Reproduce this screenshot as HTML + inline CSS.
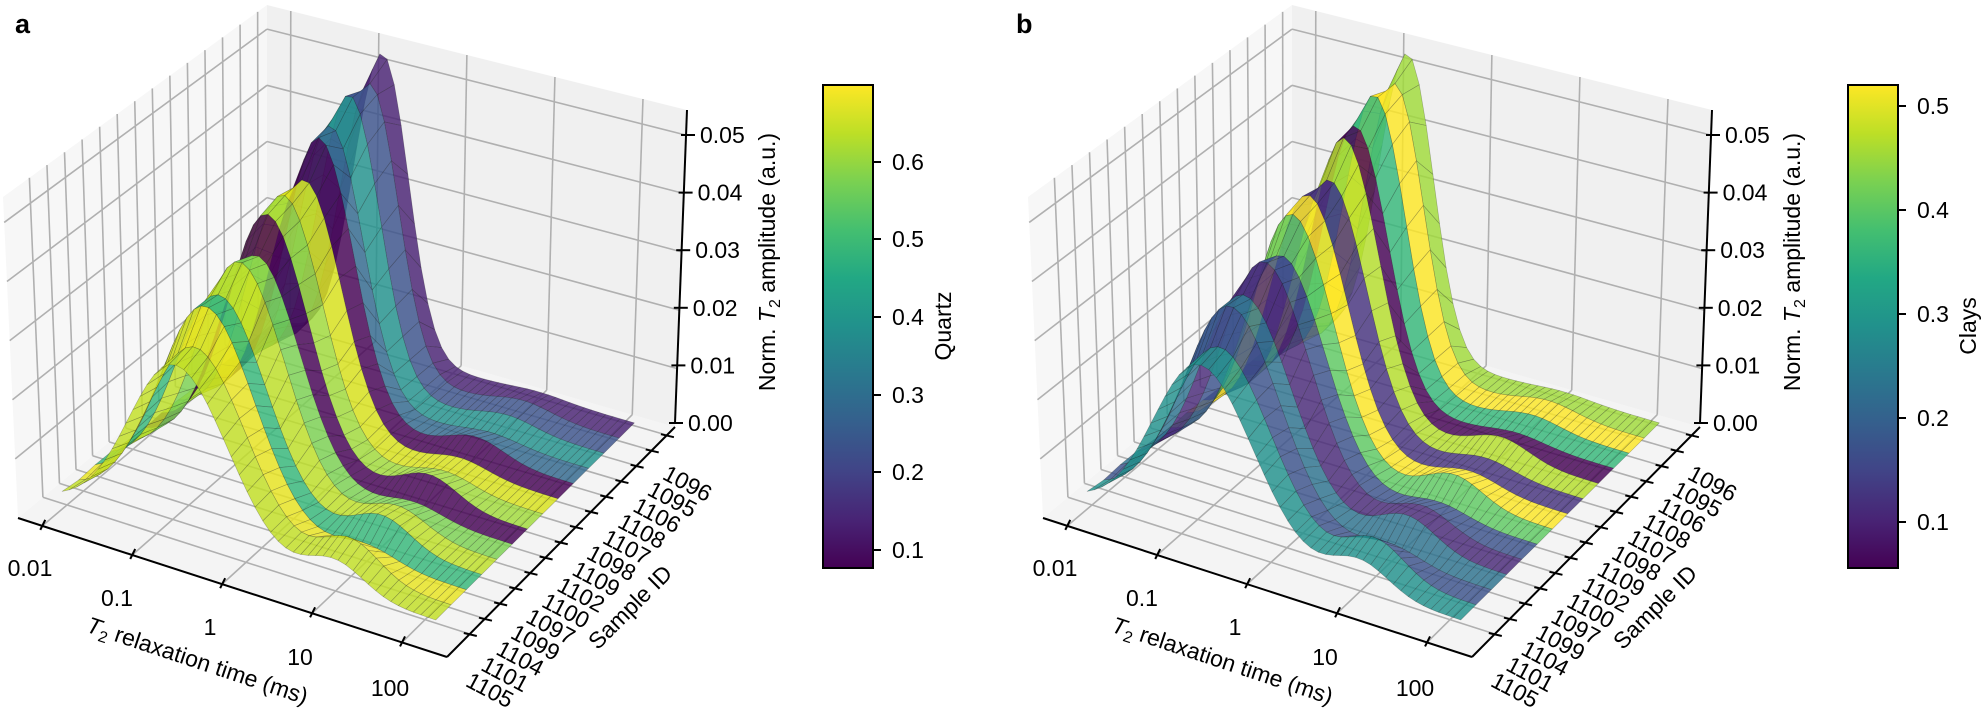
<!DOCTYPE html>
<html><head><meta charset="utf-8"><style>
html,body{margin:0;padding:0;background:#fff;}
svg{display:block;font-family:"Liberation Sans",Arial,sans-serif;}
</style></head><body>
<svg id="s" width="1985" height="709" viewBox="0 0 1985 709" xmlns="http://www.w3.org/2000/svg">
<defs>
<linearGradient id="vir" x1="0" y1="1" x2="0" y2="0">
<stop offset="0" stop-color="#440154"/><stop offset="0.1" stop-color="#482475"/><stop offset="0.2" stop-color="#414487"/><stop offset="0.3" stop-color="#355f8d"/><stop offset="0.4" stop-color="#2a788e"/><stop offset="0.5" stop-color="#21918c"/><stop offset="0.6" stop-color="#22a884"/><stop offset="0.7" stop-color="#44bf70"/><stop offset="0.8" stop-color="#7ad151"/><stop offset="0.9" stop-color="#bddf26"/><stop offset="1" stop-color="#fde725"/>
</linearGradient>
</defs>
<g id="pa"></g><g id="pb"></g>
</svg>
<script>
(function(){
var NS="http://www.w3.org/2000/svg";
var A=[18,518],B=[447,657],C=[675,427],D=[267,310];
var At=[3,197],Bt=[440,318],Ct=[687,110],Dt=[267,5];
var WMAX=0.0543, UMIN=-2.27, UR=4.77;
function bil(a,b,c,d,fu,fv){return [(1-fu)*(1-fv)*a[0]+fu*(1-fv)*b[0]+fu*fv*c[0]+(1-fu)*fv*d[0],(1-fu)*(1-fv)*a[1]+fu*(1-fv)*b[1]+fu*fv*c[1]+(1-fu)*fv*d[1]];}
function P(fu,fv,w,ox){var b=bil(A,B,C,D,fu,fv),t=bil(At,Bt,Ct,Dt,fu,fv),h=w/WMAX;return [b[0]+(t[0]-b[0])*h+ox,b[1]+(t[1]-b[1])*h];}
function fuOf(u){return (u-UMIN)/UR;}
function fvOf(i){return 0.1+0.0665*i;}
function el(g,tag,attrs,txt){var e=document.createElementNS(NS,tag);for(var k in attrs)e.setAttribute(k,attrs[k]);if(txt!=null)e.textContent=txt;g.appendChild(e);return e;}
function pts(a){return a.map(function(p){return p[0].toFixed(1)+","+p[1].toFixed(1);}).join(" ");}
var labels=["1105","1101","1104","1099","1097","1100","1102","1109","1098","1107","1108","1106","1095","1096"];
var hj=[1,0.97,1.05,0.98,1.03,0.95,1.02,1.0,0.97,1.04,0.99,1.02,0.98,1];
function amp(i,u){
  var t=i/13, H=(0.029+0.023*t)*hj[i], mu=-0.72-0.13*t+0.04*Math.sin(i*1.7), s=0.55-0.24*t;
  var bump=(0.005*(1-t)+0.0015)*(0.7+0.3*Math.sin(i*2.3));
  return H*Math.exp(-(u-mu)*(u-mu)/(2*s*s))+bump*Math.exp(-(u-1.0)*(u-1.0)/(2*0.1))+0.0005;
}
function panel(gid,ox,colors,cbLabel,cbTicks,letter){
  var g=document.getElementById(gid);
  el(g,"polygon",{points:pts([P(0,0,0,ox),P(1,0,0,ox),P(1,1,0,ox),P(0,1,0,ox)]),fill:"#f4f4f4"});
  el(g,"polygon",{points:pts([P(0,0,0,ox),P(0,1,0,ox),P(0,1,WMAX,ox),P(0,0,WMAX,ox)]),fill:"#f7f7f7"});
  el(g,"polygon",{points:pts([P(0,1,0,ox),P(1,1,0,ox),P(1,1,WMAX,ox),P(0,1,WMAX,ox)]),fill:"#f0f0f0"});
  var gs={stroke:"#b0b0b0","stroke-width":1.6,fill:"none"};
  function line(p,q,st){var a=Object.assign({x1:p[0],y1:p[1],x2:q[0],y2:q[1]},st);el(g,"line",a);}
  for(var d=-2;d<=2;d++){var fu=fuOf(d);line(P(fu,0,0,ox),P(fu,1,0,ox),gs);line(P(fu,1,0,ox),P(fu,1,WMAX,ox),gs);}
  for(var i=0;i<14;i++){var fv=fvOf(i);line(P(0,fv,0,ox),P(1,fv,0,ox),gs);line(P(0,fv,0,ox),P(0,fv,WMAX,ox),gs);}
  for(var k=1;k<=5;k++){var w=k*0.01;line(P(0,0,w,ox),P(0,1,w,ox),gs);line(P(0,1,w,ox),P(1,1,w,ox),gs);}
  var N=50,u0=-2.05,u1=2.12;
  for(var s=12;s>=0;s--){
    for(var j=0;j<N;j++){
      var ua=u0+(u1-u0)*j/N, ub=u0+(u1-u0)*(j+1)/N;
      var q=[P(fuOf(ua),fvOf(s),amp(s,ua),ox),P(fuOf(ub),fvOf(s),amp(s,ub),ox),P(fuOf(ub),fvOf(s+1),amp(s+1,ub),ox),P(fuOf(ua),fvOf(s+1),amp(s+1,ua),ox)];
      el(g,"polygon",{points:pts(q),fill:colors[s],"fill-opacity":0.82,stroke:"#1a1a1a","stroke-opacity":0.3,"stroke-width":0.6,"stroke-linejoin":"round"});
    }
  }
  var ax={stroke:"#000","stroke-width":2,fill:"none"};
  line(P(0,0,0,ox),P(1,0,0,ox),ax);
  line(P(1,0,0,ox),P(1,1,0,ox),ax);
  line([C[0]+ox,C[1]-4],[Ct[0]+ox,Ct[1]],ax);
  var xt=["0.01","0.1","1","10","100"];
  var xl=[[30,568],[117,598],[210,627],[300,657],[390,688]];
  for(var d=-2;d<=2;d++){var p=P(fuOf(d),0,0,ox);line([p[0]-2,p[1]+4],[p[0]+3,p[1]-6],ax);
    el(g,"text",{x:xl[d+2][0]+ox,y:xl[d+2][1]+8,"font-size":23,"text-anchor":"middle"},xt[d+2]);}
  var tl=el(g,"text",{x:0,y:0,"font-size":23,"text-anchor":"middle",transform:"translate("+(195+ox)+",668) rotate(18.4)"});
  var t1=document.createElementNS(NS,"tspan");t1.setAttribute("font-style","italic");t1.textContent="T";tl.appendChild(t1);
  var t2=document.createElementNS(NS,"tspan");t2.setAttribute("font-size",16);t2.setAttribute("dy",5);t2.textContent="2";tl.appendChild(t2);
  var t3=document.createElementNS(NS,"tspan");t3.setAttribute("dy",-5);t3.textContent=" relaxation time (ms)";tl.appendChild(t3);
  for(var i=0;i<14;i++){var p=P(1,fvOf(i),0,ox);line([p[0]-6,p[1]-1],[p[0]+7,p[1]+2],ax);
    var cx=490+15.2*i+ox, cy=690-15.9*i;
    el(g,"text",{x:0,y:8,"font-size":23,"text-anchor":"middle",transform:"translate("+cx.toFixed(1)+","+cy.toFixed(1)+") rotate(28)"},labels[i]);}
  el(g,"text",{x:0,y:8,"font-size":23,"text-anchor":"middle",transform:"translate("+(630+ox)+",607) rotate(-45)"},"Sample ID");
  var zt=["0.00","0.01","0.02","0.03","0.04","0.05"];
  for(var k=0;k<=5;k++){var yy=423-57.6*k;var xx=675+2.4*k+ox;line([xx-6,yy],[xx+8,yy],ax);
    el(g,"text",{x:xx+13,y:yy+8,"font-size":23},zt[k]);}
  var zl=el(g,"text",{x:0,y:0,"font-size":23,"text-anchor":"middle",transform:"translate("+(775+ox)+",262) rotate(-90)"});
  var z1=document.createElementNS(NS,"tspan");z1.textContent="Norm. ";zl.appendChild(z1);
  var z2=document.createElementNS(NS,"tspan");z2.setAttribute("font-style","italic");z2.textContent="T";zl.appendChild(z2);
  var z3=document.createElementNS(NS,"tspan");z3.setAttribute("font-size",16);z3.setAttribute("dy",5);z3.textContent="2";zl.appendChild(z3);
  var z4=document.createElementNS(NS,"tspan");z4.setAttribute("dy",-5);z4.textContent=" amplitude (a.u.)";zl.appendChild(z4);
  var cx0=823+ox;
  el(g,"rect",{x:cx0,y:85,width:50,height:483,fill:"url(#vir)",stroke:"#000","stroke-width":2});
  cbTicks.forEach(function(t){line([cx0+50,t[1]],[cx0+58,t[1]],ax);el(g,"text",{x:cx0+69,y:t[1]+8,"font-size":23},t[0]);});
  el(g,"text",{x:0,y:0,"font-size":23,"text-anchor":"middle",transform:"translate("+(cx0+128)+",326) rotate(-90)"},cbLabel);
  el(g,"text",{x:letter[0],y:letter[1],"font-size":27,"font-weight":"bold"},letter[2]);
}
var ca=["#c2df23","#e8e41f","#35b779","#bddf26","#7ad151","#440154","#a0da39","#d8e219","#440154","#31688e","#21918c","#3b528b","#482173"];
var cb=["#21918c","#3b528b","#2c728e","#482878","#3b528b","#5ec962","#fde725","#46327e","#b5de2b","#440154","#35b779","#fde725","#a0da39"];
panel("pa",0,ca,"Quartz",[["0.6",162],["0.5",239],["0.4",317],["0.3",395],["0.2",472],["0.1",550]],[15,33,"a"]);
panel("pb",1025,cb,"Clays",[["0.5",106],["0.4",210],["0.3",314],["0.2",418],["0.1",522]],[1016,33,"b"]);
})();
</script>
</body></html>
